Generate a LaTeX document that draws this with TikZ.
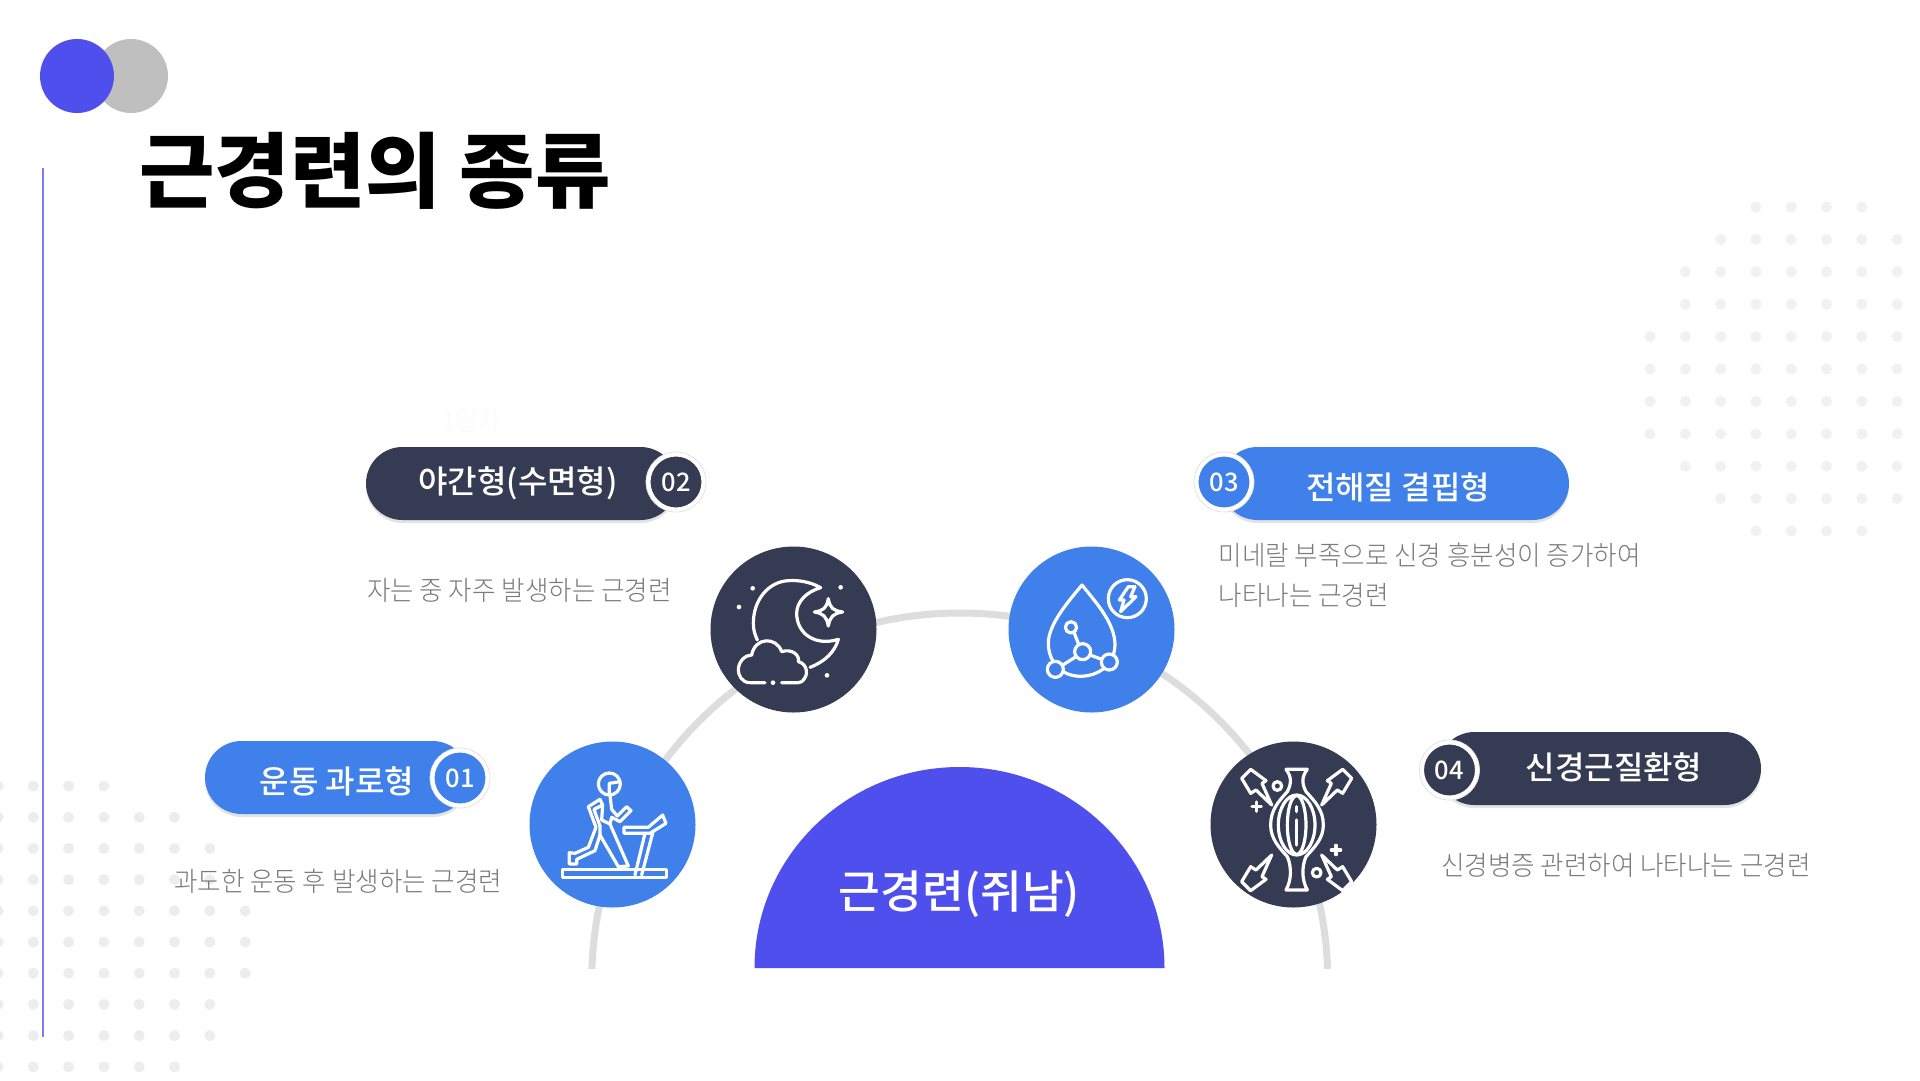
\documentclass[tikz,border=0pt]{standalone}
\usepackage{fontspec}
\setmainfont{Noto Sans CJK KR}
\newfontfamily\fontblack{Noto Sans CJK KR Black}
\newfontfamily\fontmedium{Noto Sans CJK KR Medium}
\newfontfamily\fontlight[FakeStretch=0.946]{Noto Sans CJK KR Light}
\usetikzlibrary{shapes.misc,shadows}
\definecolor{navy}{HTML}{343B52}
\definecolor{skyblue}{HTML}{3F80EA}
\definecolor{violet}{HTML}{4F4FEE}
\definecolor{arcgray}{HTML}{DDDDDD}
\definecolor{dotgray}{HTML}{F1F1F1}
\definecolor{dotleft}{HTML}{EDEDED}
\tikzset{
  pill/.style={rounded rectangle, minimum height=73pt, inner sep=0pt, drop shadow={shadow xshift=0pt, shadow yshift=-3pt, opacity=0.22}},
  badge/.style={circle, minimum size=54pt, inner sep=0pt, draw=white, line width=3pt, text=white, font=\fontmedium\fontsize{25.5}{25.5}\selectfont},
  badgering/.style={circle, minimum size=60pt, inner sep=0pt, draw=black!12, line width=0.7pt, fill=white},
  pilltext/.style={text=white, inner sep=0pt, font=\fontmedium\fontsize{32}{32}\selectfont},
  desctext/.style={text=black!52, inner sep=0pt, anchor=west, font=\fontlight\fontsize{27}{27}\selectfont},
  iconcircle/.style={circle, minimum size=166pt, inner sep=0pt},
  iconline/.style={draw=white, line width=3.2pt, line join=round, line cap=round},
}
\newcommand{\boltshape}{(-165,-155) -- (-138,-182) -- (-92,-148) -- (-104,-140) -- (-75,-75) -- (-122,-120) -- (-138,-110) -- cycle}
\begin{document}
\begin{tikzpicture}[x=1pt,y=-1pt]
\useasboundingbox (0,0) rectangle (1920,1080);
\fill[white] (0,0) rectangle (1920,1080);

% dots on the right
\foreach \row/\cols in {0/{3,4,5,6},1/{2,3,4,5,6,7},2/{1,2,3,4,5,6,7},3/{1,2,3,4,5,6,7},4/{0,1,2,3,4,5,6,7},5/{0,1,2,3,4,5,6,7},6/{0,1,2,3,4,5,6,7},7/{0,1,2,3,4,5,6,7},8/{1,2,3,4,5,6,7},9/{2,3,4,5,6,7},10/{3,4,5,6}}
  \foreach \col in \cols
    \fill[dotgray] ({1650+35.3*\col},{207+32.4*\row}) circle (5.5);
% dots on the left
\foreach \row/\last in {0/3,1/5,2/6,3/6,4/7,5/7,6/7,7/6,8/6,9/5}
  \foreach \col in {0,...,\last}
    \fill[dotleft] ({-2+35.3*\col},{786+31.2*\row}) circle (5.5);

% logo and title
\node (logogray) at (131,76) [circle, minimum size=74pt, inner sep=0pt, fill=black!25] {};
\node (logoblue) at (77,76) [circle, minimum size=74pt, inner sep=0pt, fill=violet] {};
\draw[color=violet!75, line width=2pt] (43,168) -- (43,1037);
\node (title) at (375,171) [inner sep=0pt, font=\fontblack\fontsize{82}{82}\selectfont] {근경련의 종류};
\node (faint) at (472,421) [inner sep=0pt, text=black!2, font=\fontlight\fontsize{26}{26}\selectfont] {1일차};

% arc behind the circles
\begin{scope}
\clip (500,560) rectangle (1420,968);
\draw[arcgray, line width=7pt] (959.7,981) circle (368);
\end{scope}

% half circle
\fill[violet] (754.5,968) arc (180:360:205 and 201) -- cycle;
\node (center) at (959.5,894.5) [inner sep=0pt, text=white, font=\fontmedium\fontsize{45.4}{45.4}\selectfont] {근경련(쥐남)};

% icon circles
\node (runcircle) at (612.5,824.5) [iconcircle, fill=skyblue] {};
\node (mooncircle) at (793.5,629.5) [iconcircle, fill=navy] {};
\node (dropcircle) at (1091.5,629.5) [iconcircle, fill=skyblue] {};
\node (musclecircle) at (1293.5,824.5) [iconcircle, fill=navy] {};

% pills
\node (pillA) at (337,777.5) [pill, minimum width=264pt, fill=skyblue] {};
\node (pillB) at (521.5,483.5) [pill, minimum width=311pt, fill=navy] {};
\node (pillC) at (1395,483.5) [pill, minimum width=348pt, fill=skyblue] {};
\node (pillD) at (1599.5,768.5) [pill, minimum width=323pt, fill=navy] {};

\node (textA) at (337,781) [pilltext] {운동 과로형};
\node (textB) at (518,483) [pilltext] {야간형(수면형)};
\node (textC) at (1398,487) [pilltext] {전해질 결핍형};
\node (textD) at (1614,767) [pilltext] {신경근질환형};

\node (ringA) at (460,778) [badgering] {};
\node (ringB) at (676,482) [badgering] {};
\node (ringC) at (1224,482) [badgering] {};
\node (ringD) at (1449.5,770) [badgering] {};
\node (badgeA) at (460,778) [badge, fill=skyblue] {01};
\node (badgeB) at (676,482) [badge, fill=navy] {02};
\node (badgeC) at (1224,482) [badge, fill=skyblue] {03};
\node (badgeD) at (1449.5,770) [badge, fill=navy] {04};

% descriptions
\node (descA) at (174,881) [desctext] {과도한 운동 후 발생하는 근경련};
\node (descB) at (367,590) [desctext] {자는 중 자주 발생하는 근경련};
\node (descC) at (1218.5,555) [desctext] {미네랄 부족으로 신경 흥분성이 증가하여};
\node (descCb) at (1218.5,595) [desctext] {나타나는 근경련};
\node (descD) at (1441,865) [desctext] {신경병증 관련하여 나타나는 근경련};

% moon icon
\begin{scope}[shift={(700,540)},x=0.3333pt,y=-0.3333pt]
\draw[iconline] (172,300) .. controls (165,285) and (160,270) .. (160,250) .. controls (160,180) and (205,125) .. (265,122) .. controls (295,120) and (330,125) .. (362,143) .. controls (320,155) and (290,185) .. (290,220) .. controls (290,280) and (345,320) .. (415,298) .. controls (405,335) and (375,365) .. (330,382);
\draw[iconline] (195,428) -- (150,428) .. controls (125,428) and (115,405) .. (115,390) .. controls (115,365) and (135,345) .. (155,345) .. controls (165,290) and (230,290) .. (245,335) .. controls (275,325) and (300,345) .. (295,365) .. controls (320,370) and (330,405) .. (305,425) -- (295,428) -- (245,428);
\draw[iconline] (385,176) .. controls (390,205) and (400,212) .. (428,216) .. controls (400,220) and (390,230) .. (385,258) .. controls (380,230) and (370,220) .. (343,216) .. controls (370,212) and (380,205) .. (385,176) -- cycle;
\foreach \px/\py in {158/145,117/201,422/142,381/406,219/428}
  \fill[white] (\px,\py) circle (7);
\end{scope}

% drop icon
\begin{scope}[shift={(1000,540)},x=0.3333pt,y=-0.3333pt]
\draw[iconline] (160,365) .. controls (150,350) and (145,330) .. (145,310) .. controls (145,255) and (200,190) .. (246,135) .. controls (290,190) and (345,250) .. (345,315) .. controls (345,325) and (343,335) .. (340,345);
\draw[iconline] (190,395) .. controls (220,415) and (275,415) .. (312,385);
\draw[iconline] (166,388) circle (24) (328,366) circle (24) (248,335) circle (24) (213,262) circle (17);
\draw[iconline] (222,277) -- (236,313) (187,376) -- (228,350) (270,345) -- (305,358);
\draw[iconline] (382,176) circle (57);
\draw[iconline] (385,140) -- (405,140) -- (392,170) -- (408,170) -- (362,215) -- (372,180) -- (358,180) -- cycle;
\end{scope}

% runner icon
\begin{scope}[shift={(520,740)},x=0.3333pt,y=-0.3333pt]
\draw[iconline] (128,388) rectangle (440,412);
\draw[iconline] (345,405) -- (375,280) (365,405) -- (400,272);
\draw[iconline] (312,262) -- (385,262) -- (428,225) -- (438,250) -- (390,280) -- (312,280) -- cycle;
\draw[iconline] (268,132) circle (33);
\draw[iconline] (300,125) -- (268,130) -- (268,165);
\draw[iconline] (240,178) -- (205,200) -- (228,262) -- (205,322) -- (165,340) -- (148,338) -- (148,372) -- (170,372) -- (170,358) -- (225,332) -- (240,285) -- (295,380) -- (325,378) -- (270,252) -- (275,232) -- (300,245) -- (333,212) -- (320,200) -- (292,228) -- (275,208) -- (270,165);
\draw[iconline] (240,178) -- (248,195) -- (222,208) -- (240,258) -- (240,285) (248,195) -- (245,240) -- (270,252);
\end{scope}

% muscle icon
\begin{scope}[shift={(1200,740)},x=0.3333pt,y=-0.3333pt]
\draw[iconline] (258,88) -- (322,88) .. controls (305,110) and (305,130) .. (318,155) .. controls (345,185) and (370,210) .. (370,255) .. controls (370,295) and (345,320) .. (318,350) .. controls (305,380) and (305,420) .. (322,450) -- (258,450) .. controls (275,420) and (275,380) .. (262,350) .. controls (235,320) and (212,295) .. (212,255) .. controls (212,210) and (235,185) .. (262,155) .. controls (275,130) and (275,110) .. (258,88) -- cycle;
\draw[iconline] (290,255) ellipse (55 and 90) (290,255) ellipse (28 and 88);
\draw[iconline] (290,200) -- (290,215) (290,240) -- (290,315);
\foreach \sx/\sy in {1/1,-1/1,1/-1,-1/-1}
  \draw[iconline, shift={(290,270)}, xscale=\sx, yscale=\sy] \boltshape;
\draw[iconline] (232,138) circle (13) (350,398) circle (13);
\draw[iconline] (156,200) -- (184,200) (170,186) -- (170,214) (394,330) -- (422,330) (408,316) -- (408,344);
\end{scope}
\end{tikzpicture}
\end{document}
